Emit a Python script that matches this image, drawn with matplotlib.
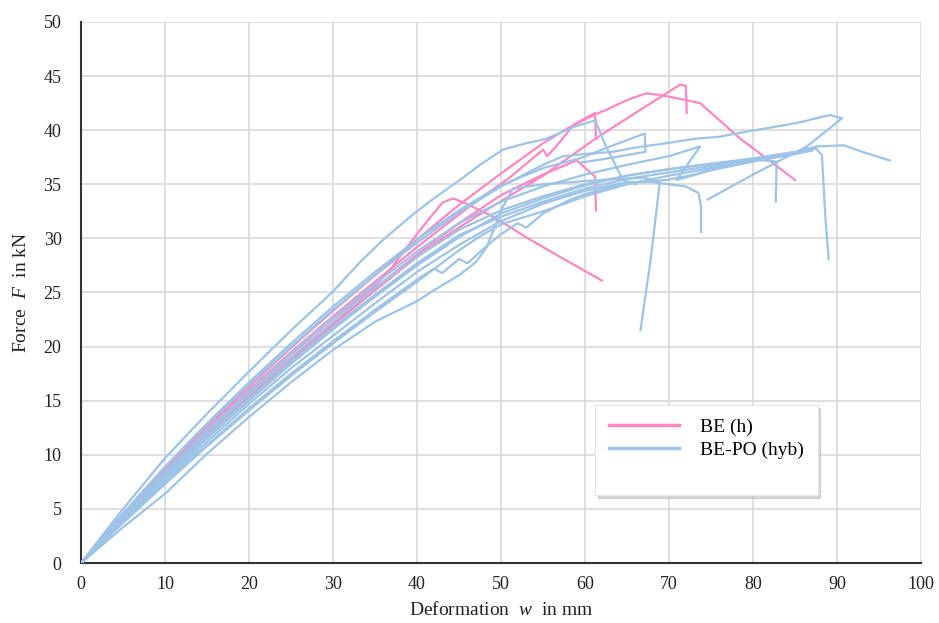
import matplotlib
matplotlib.use("Agg")
import matplotlib.pyplot as plt
from matplotlib.lines import Line2D

# ---- data: force-deformation curves ----
# BE (h) specimens
be_1_x = [0, 5, 10, 15, 20, 25, 30, 35, 37, 38.5, 40.4, 43, 44.3, 45.9, 49.1, 53, 57, 62]
be_1_y = [0, 4.3, 8.3, 12.2, 15.8, 19.3, 22.6, 25.6, 27.3, 28.9, 30.8, 33.3, 33.7, 33.2, 32.0, 30.1, 28.3, 26.1]
be_2_x = [0, 5, 10, 15, 20, 25, 30, 35, 40, 44, 47.5, 51, 55, 55.5, 57, 58.6, 61.2, 61.3]
be_2_y = [0, 4.4, 8.5, 12.4, 16.0, 19.5, 22.8, 26.0, 29.2, 31.6, 33.7, 35.6, 38.2, 37.6, 38.9, 40.5, 41.6, 39.2]
be_3_x = [0, 5, 10, 15, 20, 25, 30, 35, 40, 45, 50, 55, 58, 61, 62.6, 64.2, 65.7, 67.3, 68.5, 70, 73.7, 78.5, 85]
be_3_y = [0, 4.5, 8.7, 12.6, 16.3, 19.9, 23.3, 26.6, 29.9, 33.1, 36.0, 38.8, 40.2, 41.4, 41.9, 42.5, 43.0, 43.4, 43.3, 43.1, 42.5, 39.2, 35.4]
be_4_x = [0, 5, 10, 15, 20, 25, 30, 35, 40, 44, 48, 55, 61.2, 66, 71.3, 72, 72.1]
be_4_y = [0, 4.1, 8.0, 11.8, 15.3, 18.7, 22.0, 25.2, 28.3, 30.5, 32.5, 35.8, 39.2, 41.6, 44.2, 44.1, 41.6]
be_5_x = [0, 5, 10, 15, 20, 25, 30, 35, 40, 45, 50, 55, 59, 61.2, 61.3]
be_5_y = [0, 4.2, 8.1, 11.9, 15.5, 18.9, 22.2, 25.4, 28.5, 31.4, 34.0, 35.9, 37.2, 35.7, 32.6]

# BE-PO (hyb) specimens
po_1_x = [0, 5, 10, 15, 20, 25, 30, 33.2, 36, 39.5, 42, 45.1, 47.5, 50.2, 53, 55.4, 58.6, 61.2, 62.5, 64.5, 66]
po_1_y = [0, 5.0, 9.7, 13.8, 17.7, 21.5, 25.1, 27.8, 29.9, 32.2, 33.7, 35.4, 36.8, 38.2, 38.8, 39.2, 40.3, 40.9, 38.5, 35.4, 35.0]
po_2_x = [0, 5, 10, 15, 20, 25, 30, 35, 40, 42, 45, 47, 48.3, 49.2, 50, 51.4, 55, 60, 64, 67, 68.9, 67.8, 66.6]
po_2_y = [0, 3.3, 6.4, 10.1, 13.5, 16.7, 19.7, 22.3, 24.2, 25.2, 26.6, 27.8, 29.2, 31.0, 32.6, 34.6, 35.0, 35.3, 35.5, 35.6, 35.2, 28.0, 21.5]
po_3_x = [0, 5, 10, 15, 20, 25, 30, 35, 40, 45, 50, 55, 60, 65, 68, 70, 72, 73.5, 73.8, 73.8]
po_3_y = [0, 3.9, 7.6, 11.2, 14.7, 18.0, 21.0, 24.0, 26.9, 29.4, 31.6, 33.2, 34.4, 35.2, 35.2, 35.0, 34.8, 34.2, 33.0, 30.6]
po_4_x = [0, 5, 10, 15, 20, 25, 30, 35, 40, 45, 50, 55, 60, 65, 70, 75, 80, 85, 87.6, 90.8, 93, 96.3]
po_4_y = [0, 4.0, 7.8, 11.5, 15.0, 18.4, 21.6, 24.6, 27.5, 30.1, 32.3, 33.7, 34.9, 35.8, 36.4, 36.9, 37.4, 38.0, 38.5, 38.6, 38.0, 37.2]
po_5_x = [0, 5, 10, 15, 20, 25, 30, 35, 40, 45, 50, 55, 60, 65, 70, 75, 80, 85, 87.5, 88.2, 88.6, 89]
po_5_y = [0, 4.1, 8.0, 11.7, 15.2, 18.6, 21.8, 24.8, 27.7, 30.3, 32.0, 33.4, 34.6, 35.5, 36.1, 36.7, 37.3, 37.9, 38.3, 37.7, 32.0, 28.1]
po_6_x = [0, 5, 10, 15, 20, 25, 30, 35, 40, 45, 50, 55, 60, 65, 70, 75, 80, 82.8, 82.7]
po_6_y = [0, 4.2, 8.2, 12.0, 15.6, 19.0, 22.3, 25.4, 28.3, 30.8, 32.6, 33.9, 35.0, 35.8, 36.4, 36.9, 37.3, 37.1, 33.4]
po_7_x = [0, 5, 10, 15, 20, 25, 30, 35, 40, 45, 50, 55, 57.4, 60, 63.3, 66, 69.7, 73, 76.1, 78, 81, 84, 86, 88, 89.2, 90.6, 86.4, 80, 74.6]
po_7_y = [0, 4.5, 8.8, 12.8, 16.5, 20.0, 23.4, 26.6, 29.6, 32.4, 34.8, 36.8, 37.6, 37.8, 38.0, 38.4, 38.8, 39.2, 39.4, 39.7, 40.1, 40.5, 40.8, 41.2, 41.4, 41.1, 38.5, 35.9, 33.6]
po_8_x = [0, 5, 10, 15, 20, 25, 30, 35, 40, 45, 50, 55, 59.4, 63, 67.1, 67.2, 62, 59.4]
po_8_y = [0, 4.6, 8.9, 12.9, 16.7, 20.3, 23.7, 26.9, 29.9, 32.6, 34.9, 36.5, 37.4, 38.5, 39.7, 38.0, 37.3, 37.0]
po_9_x = [0, 5, 10, 15, 20, 25, 30, 35, 40, 45, 50, 55, 60, 65, 70, 73.7, 70.9, 75, 80, 85, 87]
po_9_y = [0, 4.3, 8.4, 12.3, 15.9, 19.4, 22.7, 25.8, 28.8, 31.4, 33.4, 34.8, 35.9, 36.8, 37.6, 38.5, 35.4, 36.3, 37.1, 37.8, 38.2]
po_10_x = [0, 5, 10, 15, 20, 25, 30, 35, 40, 42, 43, 45, 46, 48, 50, 52, 53, 55, 58, 60, 63.3, 66, 69.7, 73, 76.1, 80, 84, 87]
po_10_y = [0, 3.8, 7.4, 10.9, 14.3, 17.5, 20.5, 23.4, 26.2, 27.2, 26.8, 28.1, 27.7, 29.1, 30.4, 31.4, 31.0, 32.3, 33.5, 34.1, 34.8, 35.2, 35.4, 35.9, 36.6, 37.2, 37.7, 38.1]
po_11_x = [0, 5, 10, 15, 20, 25, 30, 35, 40, 45, 47.5, 50, 55.4, 60, 65, 70, 75, 80, 85, 86.4]
po_11_y = [0, 3.7, 7.3, 10.8, 14.1, 17.3, 20.3, 23.2, 26.0, 28.9, 30.2, 31.3, 32.6, 33.9, 35.0, 35.8, 36.5, 37.2, 37.9, 38.3]

be_curves = [(be_1_x, be_1_y), (be_2_x, be_2_y), (be_3_x, be_3_y), (be_4_x, be_4_y), (be_5_x, be_5_y)]
po_curves = [(po_1_x, po_1_y), (po_2_x, po_2_y), (po_3_x, po_3_y), (po_4_x, po_4_y),
             (po_5_x, po_5_y), (po_6_x, po_6_y), (po_7_x, po_7_y), (po_8_x, po_8_y),
             (po_9_x, po_9_y), (po_10_x, po_10_y), (po_11_x, po_11_y)]

x_ticks = list(range(0, 101, 10))
y_ticks = list(range(0, 51, 5))

pink = "#FF87C3"
blue = "#9DC3E6"

plt.rcParams["font.family"] = ["Liberation Serif", "DejaVu Serif"]
plt.rcParams["mathtext.fontset"] = "custom"
plt.rcParams["mathtext.it"] = "Liberation Serif:italic"
plt.rcParams["mathtext.rm"] = "Liberation Serif"

fig = plt.figure(figsize=(9.39, 6.23), dpi=100)
ax = fig.add_axes([0.0863, 0.0963, 0.8946, 0.8684])

# pink drawn first so the blue pack covers it where they overlap
for xs, ys in be_curves:
    ax.plot(xs, ys, color=pink, lw=1.6, solid_joinstyle="round", zorder=3)
for xs, ys in po_curves:
    ax.plot(xs, ys, color=blue, lw=1.6, solid_joinstyle="round", zorder=4)

ax.set_xlim(0, 100)
ax.set_ylim(0, 50)
ax.set_xticks(x_ticks)
ax.set_yticks(y_ticks)
ax.tick_params(length=0, labelsize=13, colors="#222222")
ax.tick_params(axis="x", pad=9)
ax.tick_params(axis="y", pad=14)
ax.grid(True, color="#DCDCDC", lw=1.3, zorder=0)
ax.set_axisbelow(True)
for side in ["top", "right"]:
    ax.spines[side].set_visible(False)
for side in ["left", "bottom"]:
    ax.spines[side].set_color("#333333")
    ax.spines[side].set_linewidth(1.5)

ax.set_xlabel("Deformation  $w$  in mm", fontsize=14, color="#222222", labelpad=6)
ax.set_ylabel("Force  $F$  in kN", fontsize=14, color="#222222", labelpad=10)

handles = [Line2D([], [], color=pink, lw=2.5),
           Line2D([], [], color=blue, lw=2.5),
           Line2D([], [], color="none", lw=0)]
leg = ax.legend(handles, ["BE (h)", "BE-PO (hyb)", " "], loc="upper left",
                bbox_to_anchor=(0.612, 0.292), borderaxespad=0, fontsize=14,
                frameon=True, fancybox=False, edgecolor="#E6E6E6", borderpad=0.7,
                handlelength=3.6, handletextpad=1.1, labelspacing=0.25,
                shadow={"color": "#BBBBBB", "alpha": 0.6})
leg.get_frame().set_linewidth(0.8)
leg.set_zorder(10)

fig.savefig("out.png", dpi=100)
